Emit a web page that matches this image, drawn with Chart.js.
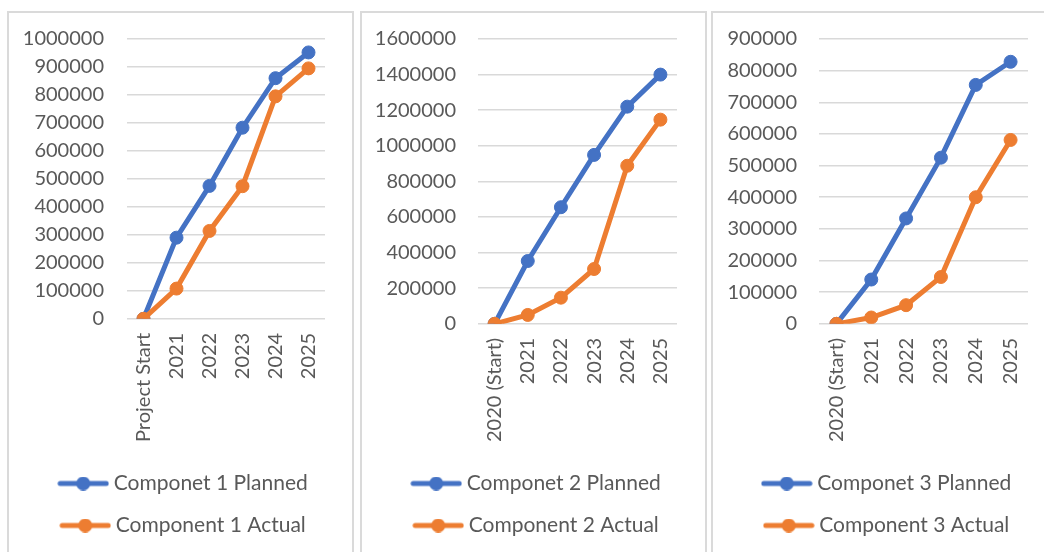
<!DOCTYPE html>
<html lang="en">
<head>
    <meta charset="UTF-8">
    <script src="https://cdn.jsdelivr.net/npm/chart.js@4.4.0/dist/chart.umd.min.js"></script>
    <title>Components</title>
    <style>
        body { margin: 0; width: 1044px; height: 552px; overflow: hidden; background: #fff; position: relative; }
        .panel { position: absolute; top: 11px; height: 560px; border: 2px solid #dadada; box-sizing: border-box; }
        canvas { position: absolute; top: 12px; }
    </style>
</head>
<body>
    <div class="panel" style="left:7px; width:347px;"></div>
    <div class="panel" style="left:360px; width:347px;"></div>
    <div class="panel" style="left:711px; width:345px;"></div>
    <canvas id="c1" width="345" height="534" style="left:8px;"></canvas>
    <canvas id="c2" width="345" height="534" style="left:361px;"></canvas>
    <canvas id="c3" width="340" height="534" style="left:712px;"></canvas>
<script>
    // data
    var labels1 = ['Project Start', '2021', '2022', '2023', '2024', '2025'];
    var labels23 = ['2020 (Start)', '2021', '2022', '2023', '2024', '2025'];

    var planned1 = [0, 290000, 475000, 683000, 860000, 952000];
    var actual1 = [0, 108000, 314000, 474000, 795000, 895000];
    var planned2 = [0, 353000, 655000, 949000, 1220000, 1400000];
    var actual2 = [0, 50000, 147000, 308000, 888000, 1147000];
    var planned3 = [0, 140000, 333000, 525000, 755000, 828000];
    var actual3 = [0, 20000, 59000, 148000, 400000, 581000];

    var BLUE = '#4472C4';
    var ORANGE = '#ED7D31';
    var TEXT = '#595959';

    Chart.defaults.font.family = 'Lato';
    Chart.defaults.font.size = 20;
    Chart.defaults.color = TEXT;

    function legendIcon(color) {
        var c = document.createElement('canvas');
        c.width = 52; c.height = 14;
        var g = c.getContext('2d');
        g.strokeStyle = color;
        g.lineWidth = 5;
        g.lineCap = 'round';
        g.beginPath(); g.moveTo(3, 7); g.lineTo(49, 7); g.stroke();
        g.fillStyle = color;
        g.beginPath(); g.arc(26, 7, 7, 0, Math.PI * 2); g.fill();
        return c;
    }
    var icons = {};
    icons[BLUE] = legendIcon(BLUE);
    icons[ORANGE] = legendIcon(ORANGE);

    function series(label, data, color, order) {
        return {
            label: label,
            data: data,
            borderColor: color,
            backgroundColor: color,
            borderWidth: 5,
            pointRadius: 6.5,
            pointBorderWidth: 1,
            pointStyle: 'circle',
            order: order,
            tension: 0
        };
    }

    function makeChart(id, labels, planned, actual, n, yMax, yStep, leftPad, yWidth, yPad, rightPad) {
        return new Chart(document.getElementById(id), {
            type: 'line',
            data: {
                labels: labels,
                datasets: [
                    series('Componet ' + n + ' Planned', planned, BLUE, 1),
                    series('Component ' + n + ' Actual', actual, ORANGE, 0)
                ]
            },
            options: {
                responsive: false,
                animation: false,
                layout: { padding: { top: 27, right: 0, left: leftPad, bottom: 0 } },
                scales: {
                    x: {
                        offset: true,
                        grid: { display: false, drawTicks: false },
                        border: { display: false },
                        ticks: { minRotation: 90, maxRotation: 90, padding: 14, color: TEXT },
                        afterFit: function(s) { s.height -= 4; }
                    },
                    y: {
                        min: 0,
                        max: yMax,
                        grid: { color: '#d9d9d9', lineWidth: 1.5, drawTicks: false },
                        border: { display: false },
                        ticks: {
                            stepSize: yStep,
                            padding: yPad,
                            color: TEXT,
                            callback: function(v) { return String(v); }
                        },
                        afterFit: function(s) {
                            s.width = yWidth;
                            s.paddingTop = 0;
                            s.paddingBottom = 0;
                        }
                    },
                    // empty right gutter so the legend stays centred on the whole panel
                    gutter: {
                        position: 'right',
                        grid: { display: false },
                        border: { display: false },
                        ticks: { display: false },
                        afterFit: function(s) { s.width = rightPad; }
                    }
                },
                plugins: {
                    tooltip: { enabled: false },
                    legend: {
                        position: 'bottom',
                        align: 'center',
                        labels: {
                            usePointStyle: true,
                            pointStyleWidth: 40,
                            padding: 21,
                            color: TEXT,
                            font: { size: 21 },
                            sort: function(a, b) { return a.datasetIndex - b.datasetIndex; },
                            generateLabels: function(chart) {
                                var items = Chart.defaults.plugins.legend.labels.generateLabels(chart);
                                items.forEach(function(it) {
                                    it.pointStyle = icons[chart.data.datasets[it.datasetIndex].borderColor];
                                });
                                return items;
                            }
                        }
                    }
                }
            }
        });
    }

    makeChart('c1', labels1, planned1, actual1, 1, 1000000, 100000, 10, 109, 23, 28);
    makeChart('c2', labels23, planned2, actual2, 2, 1600000, 200000, 10, 107, 22, 29);
    makeChart('c3', labels23, planned3, actual3, 3, 900000, 100000, 14, 93, 22, 24);
</script>
</body>
</html>
